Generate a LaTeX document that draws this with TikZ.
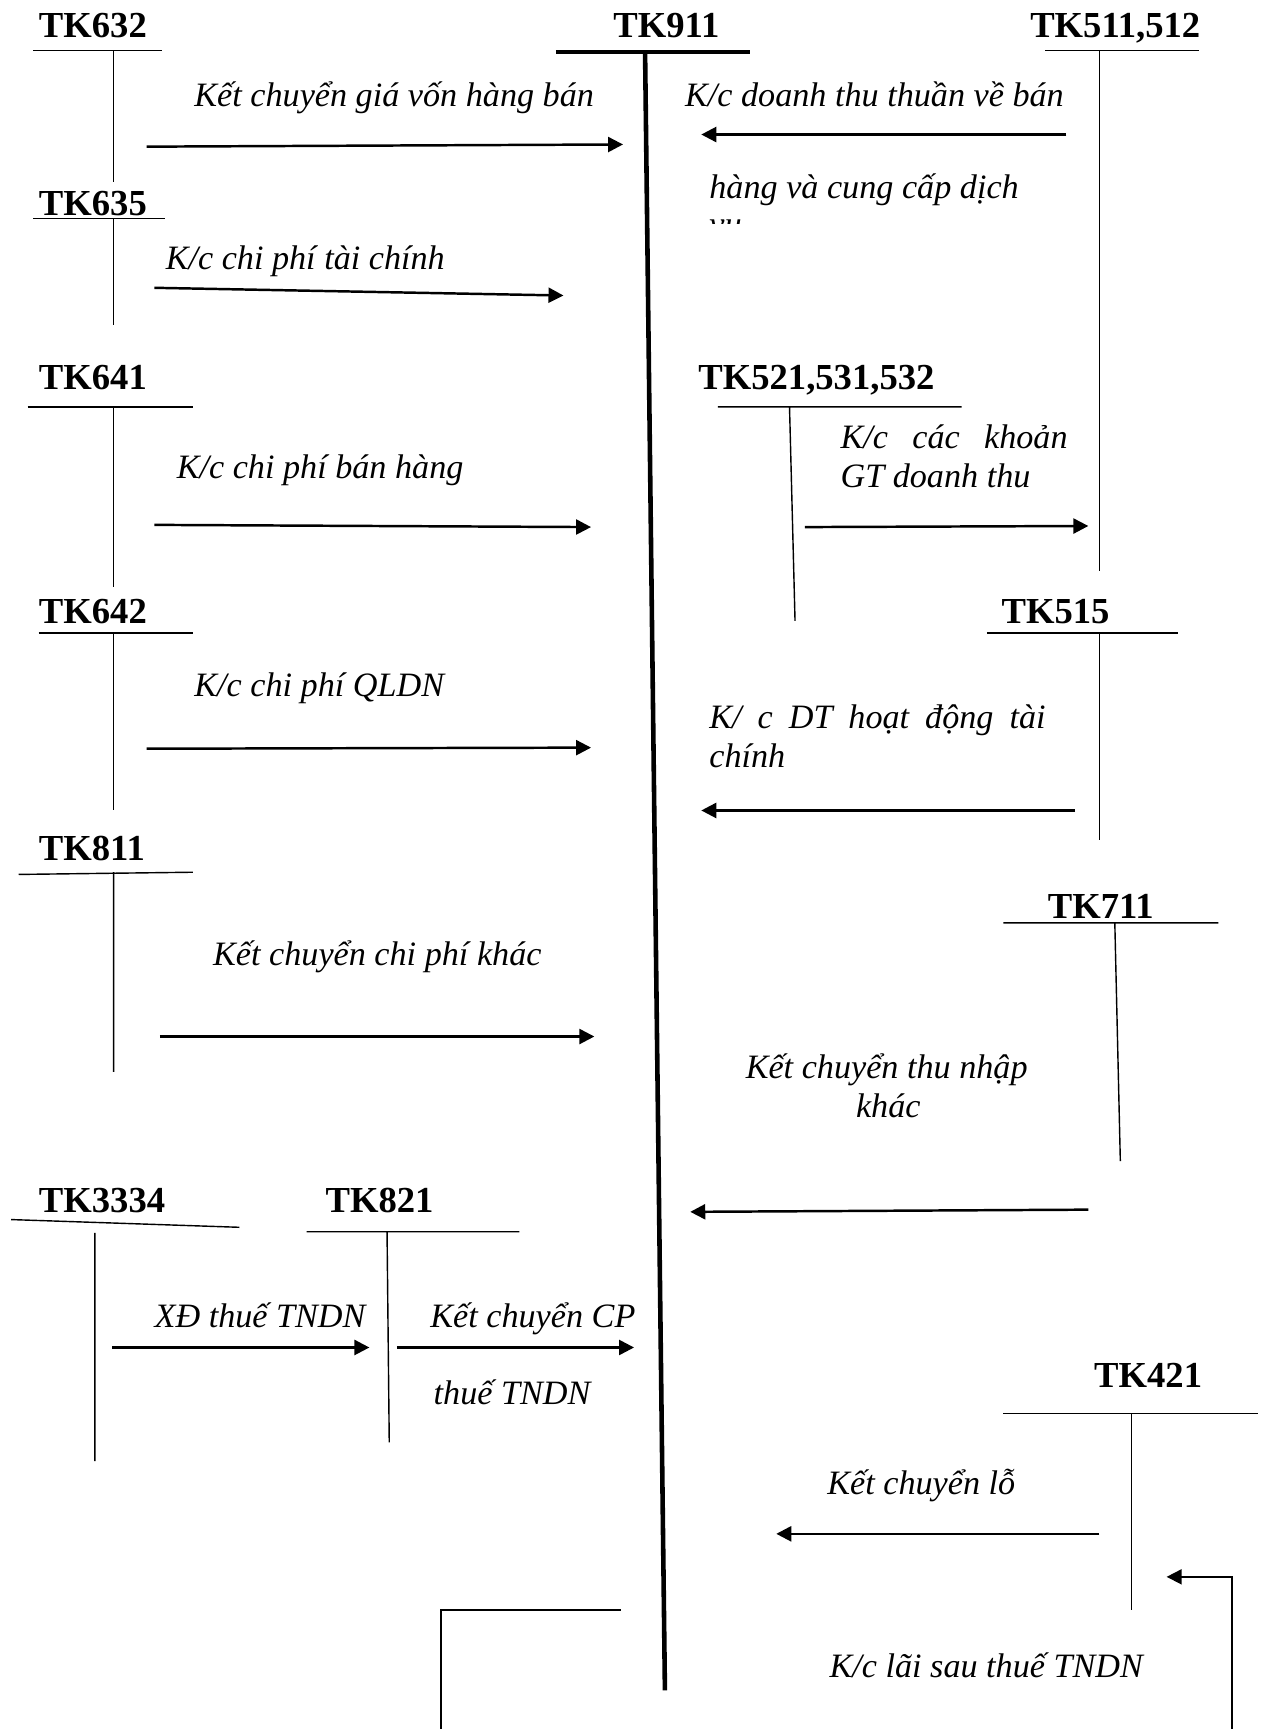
\documentclass[tikz,border=0pt]{standalone}
\usepackage{fontspec}
\setmainfont{Liberation Serif}
\usetikzlibrary{arrows.meta}
\tikzset{
  acc/.style={font=\fontsize{20.8}{24}\selectfont\bfseries, inner sep=0pt, anchor=base west},
  lbl/.style={font=\fontsize{19.4}{23}\selectfont\itshape, inner sep=0pt, anchor=base west},
  tline/.style={line width=0.8pt},
  mainline/.style={line width=2.6pt},
  flow/.style={line width=1.4pt, -{Triangle[length=8.5pt,width=8.5pt]}},
  link/.style={line width=1pt, -{Triangle[length=8.5pt,width=8.5pt]}},
}
\begin{document}
\begin{tikzpicture}[x=0.022cm,y=-0.022cm]
\clip (0,0) rectangle (1146,1568);

% tai khoan ben trai
\node[acc] (t632) at (35,34) {TK632};
\draw[tline] (30,46) -- (147,46) (103,46) -- (103,165);
\node[acc] (t635) at (35,195) {TK635};
\draw[tline] (30,198) -- (150,198) (103,198) -- (103,295);
\node[acc] (t641) at (35,353) {TK641};
\draw[tline] (25,369) -- (175,369) (103,369) -- (103,532);
\node[acc] (t642) at (35,565) {TK642};
\draw[tline] (35,574) -- (175,574) (103,574) -- (103,735);
\node[acc] (t811) at (35,780) {TK811};
\draw[tline] (17,793) -- (175,791) (103,791) -- (103,972);
\node[acc] (t3334) at (35,1100) {TK3334};
\draw[tline] (10,1106) -- (217,1113) (86,1118) -- (86,1325);
\node[acc] (t821) at (295,1100) {TK821};
\draw[tline] (278,1117) -- (471,1117) (351,1117) -- (353,1308);

% TK911
\node[acc] (t911) at (556,34) {TK911};
\draw[mainline] (504,47) -- (680,47);
\draw[mainline] (585,47) -- (603,1533);

% tai khoan ben phai
\node[acc] (t511) at (934,34) {TK511,512};
\draw[tline] (948,46) -- (1087,46) (997,46) -- (997,518);
\node[acc] (t521) at (633,353) {TK521,531,532};
\draw[tline] (651,369) -- (872,369) (716,369) -- (721,563);
\node[acc] (t515) at (908,565) {TK515};
\draw[tline] (895,574) -- (1068,574) (997,574) -- (997,762);
\node[acc] (t711) at (950,833) {TK711};
\draw[tline] (910,837) -- (1105,837) (1011,837) -- (1016,1053);
\node[acc] (t421) at (992,1258) {TK421};
\draw[tline] (910,1282) -- (1141,1282) (1026,1282) -- (1026,1460);

% diem dau, diem cuoi cac mui ten
\coordinate (s1) at (133,133);  \coordinate (e1) at (565,131);
\coordinate (s2) at (140,261);  \coordinate (e2) at (511,268);
\coordinate (s3) at (140,476);  \coordinate (e3) at (536,478);
\coordinate (s4) at (133,679);  \coordinate (e4) at (536,678);
\coordinate (s5) at (145,940);  \coordinate (e5) at (539,940);
\coordinate (s6) at (102,1222); \coordinate (e6) at (335,1222);
\coordinate (s7) at (360,1222); \coordinate (e7) at (575,1222);
\coordinate (s8) at (967,122);  \coordinate (e8) at (636,122);
\coordinate (s9) at (730,478);  \coordinate (e9) at (987,477);
\coordinate (s10) at (975,735); \coordinate (e10) at (636,735);
\coordinate (s11) at (987,1097); \coordinate (e11) at (626,1099);
\coordinate (s12) at (997,1391); \coordinate (e12) at (704,1391);
\coordinate (s13) at (563,1460); \coordinate (e13) at (1058,1430);

\draw[flow] (s1) -- (e1);
\draw[flow] (s2) -- (e2);
\draw[flow] (s3) -- (e3);
\draw[flow] (s4) -- (e4);
\draw[flow] (s5) -- (e5);
\draw[flow] (s6) -- (e6);
\draw[flow] (s7) -- (e7);
\draw[flow] (s8) -- (e8);
\draw[flow] (s9) -- (e9);
\draw[flow] (s10) -- (e10);
\draw[flow] (s11) -- (e11);
\draw[flow] (s12) -- (e12);
\draw[link] (s13) -| (400,1620) -| (1117,1430) -- (e13);

% noi dung but toan
\node[lbl] (l1) at (176,97) {Kết chuyển giá vốn hàng bán};
\node[lbl] (l2) at (150,244) {K/c chi phí tài chính};
\node[lbl] (l3) at (160,434) {K/c chi phí bán hàng};
\node[lbl] (l4) at (176,632) {K/c chi phí QLDN};
\node[lbl] (l5) at (193,876) {Kết chuyển chi phí khác};
\node[lbl] (l6) at (140,1204) {XĐ thuế TNDN};
\node[lbl] (l7a) at (390,1204) {Kết chuyển CP};
\node[lbl] (l7b) at (393,1274) {thuế TNDN};
\node[lbl] (l8a) at (621,97) {K/c doanh thu thuần về bán};
\node[lbl] (l8b) at (643,180) {hàng và cung cấp dịch};
\begin{scope}
\clip (600,195) rectangle (720,203);
\node[lbl] (l8c) at (643,214) {vụ};
\end{scope}
\node[lbl] (l9a) at (762,407) {\makebox[4.53cm][s]{K/c các khoản}};
\node[lbl] (l9b) at (762,442) {GT doanh thu};
\node[lbl] (l10a) at (643,661) {\makebox[6.71cm][s]{K/ c DT hoạt động tài}};
\node[lbl] (l10b) at (643,696) {chính};
\node[lbl] (l11a) at (676,978) {Kết chuyển thu nhập};
\node[lbl] (l11b) at (776,1013) {khác};
\node[lbl] (l12) at (750,1355) {Kết chuyển lỗ};
\node[lbl] (l13) at (752,1521) {K/c lãi sau thuế TNDN};
\end{tikzpicture}
\end{document}
